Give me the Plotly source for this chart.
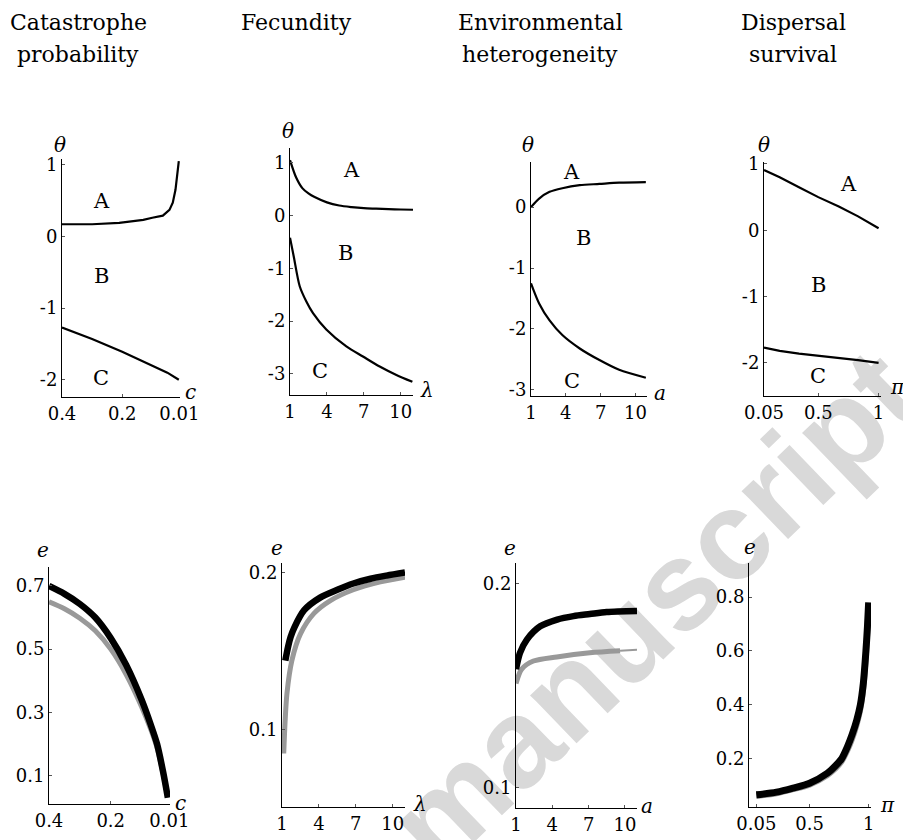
import plotly.graph_objects as go

W, H = 903, 840

# ---------------- data ----------------
# Top row: boundaries (theta) between regions A, B, C
cat_c_A = [0.4, 0.3, 0.21, 0.13, 0.1, 0.065, 0.043, 0.032, 0.023, 0.018, 0.012]
cat_theta_A = [0.17, 0.17, 0.19, 0.23, 0.26, 0.29, 0.37, 0.47, 0.65, 0.84, 1.05]
cat_c_C = [0.4, 0.3, 0.2, 0.1, 0.05, 0.012]
cat_theta_C = [-1.27, -1.43, -1.61, -1.80, -1.90, -2.0]

fec_lam_A = [1, 1.5, 2, 2.5, 3, 4, 5, 6, 7, 8, 9, 10, 11]
fec_theta_A = [1.05, 0.72, 0.52, 0.42, 0.35, 0.25, 0.19, 0.16, 0.14, 0.13, 0.12, 0.115, 0.11]
fec_lam_C = [1, 1.3, 1.79, 2.33, 2.87, 3.95, 5.58, 6.93, 8.29, 9.65, 10.95]
fec_theta_C = [-0.42, -0.77, -1.34, -1.63, -1.85, -2.16, -2.48, -2.67, -2.86, -3.02, -3.15]

env_a = [1, 1.7, 2.6, 3.7, 5.2, 6.9, 8.6, 10.9]
env_theta_A = [0.0, 0.14, 0.25, 0.31, 0.36, 0.38, 0.40, 0.41]
env_theta_C = [-1.25, -1.58, -1.86, -2.10, -2.32, -2.51, -2.67, -2.80]

dis_pi = [0.05, 0.18, 0.34, 0.5, 0.67, 0.83, 1.0]
dis_theta_A = [0.91, 0.80, 0.65, 0.50, 0.36, 0.21, 0.03]
dis_theta_C = [-1.77, -1.82, -1.86, -1.89, -1.92, -1.96, -2.0]

# Bottom row: e (black and gray curves)
cat_c = [0.4, 0.35, 0.3, 0.25, 0.2, 0.15, 0.1, 0.07, 0.05, 0.03, 0.015]
cat_e_black = [0.70, 0.675, 0.643, 0.60, 0.535, 0.45, 0.34, 0.26, 0.20, 0.11, 0.03]
cat_e_gray = [0.65, 0.628, 0.598, 0.558, 0.50, 0.42, 0.318, 0.245, 0.188, 0.104, 0.03]

fec_lam_black = [1.27, 1.5, 1.7, 2.0, 2.8, 4.1, 5.5, 6.8, 8.2, 9.5, 11]
fec_e_black = [0.144, 0.153, 0.159, 0.165, 0.176, 0.184, 0.189, 0.193, 0.196, 0.198, 0.2]
fec_lam_gray = [1.14, 1.25, 1.4, 1.8, 2.5, 3.6, 4.9, 6.8, 9.0, 11]
fec_e_gray = [0.085, 0.105, 0.123, 0.144, 0.161, 0.174, 0.182, 0.189, 0.194, 0.197]

env_a_black = [1, 1.33, 1.9, 3.0, 4.4, 5.75, 7.1, 8.5, 11]
env_e_black = [0.158, 0.166, 0.1725, 0.179, 0.1823, 0.184, 0.185, 0.186, 0.1865]
env_a_gray = [1, 1.47, 2.44, 4.37, 7.1, 9.6]
env_e_gray = [0.151, 0.158, 0.162, 0.164, 0.166, 0.167]
env_a_gray_thin = [9.6, 11]
env_e_gray_thin = [0.167, 0.1675]

dis_pi_b = [0.05, 0.22, 0.36, 0.5, 0.65, 0.72, 0.77, 0.82, 0.86, 0.9, 0.93, 0.955, 0.977, 0.99, 1.0]
dis_e_black = [0.067, 0.077, 0.092, 0.11, 0.147, 0.175, 0.2, 0.245, 0.29, 0.345, 0.4, 0.48, 0.6, 0.69, 0.78]
dis_e_gray = [0.063, 0.073, 0.088, 0.105, 0.14, 0.165, 0.19, 0.232, 0.275, 0.33, 0.385, 0.465, 0.585, 0.68, 0.77]

title_lines = [("Catastrophe", 78, 22), ("probability", 78, 55), ("Fecundity", 296, 22),
               ("Environmental", 540, 22), ("heterogeneity", 540, 55),
               ("Dispersal", 793, 22), ("survival", 793, 55)]

FONT = "DejaVu Serif"
BLACK = "#000000"
GRAY = "#999999"

fig = go.Figure()

def add(xs, ys, ax, color=BLACK, width=2.2, shape="linear"):
    fig.add_trace(go.Scatter(x=xs, y=ys, mode="lines", xaxis="x" + ax, yaxis="y" + ax,
                             line=dict(color=color, width=width, shape=shape, smoothing=0.8),
                             showlegend=False, hoverinfo="skip"))

# top row
add(cat_c_A, cat_theta_A, "1")
add(cat_c_C, cat_theta_C, "1")
add(fec_lam_A, fec_theta_A, "2", shape="spline")
add(fec_lam_C, fec_theta_C, "2", shape="spline")
add(env_a, env_theta_A, "3", shape="spline")
add(env_a, env_theta_C, "3", shape="spline")
add(dis_pi, dis_theta_A, "4")
add(dis_pi, dis_theta_C, "4")
# bottom row
add(cat_c, cat_e_gray, "5", GRAY, 5, "spline")
add(cat_c, cat_e_black, "5", BLACK, 6.5, "spline")
add(fec_lam_gray, fec_e_gray, "6", GRAY, 5, "spline")
add(fec_lam_black, fec_e_black, "6", BLACK, 6.5, "spline")
add(env_a_gray_thin, env_e_gray_thin, "7", GRAY, 2, "linear")
add(env_a_gray, env_e_gray, "7", GRAY, 5, "spline")
add(env_a_black, env_e_black, "7", BLACK, 6.5, "spline")
add(dis_pi_b, dis_e_gray, "8", GRAY, 6, "spline")
add(dis_pi_b, dis_e_black, "8", BLACK, 7, "spline")

# ---------------- layout ----------------
# pixel boxes of each panel: (x0, x1, ytop, ybottom)
boxes = {
    1: (62, 180, 159, 397), 2: (290, 413, 148, 395), 3: (531, 647, 162, 396), 4: (764, 881, 162, 396),
    5: (49, 170, 567, 804), 6: (282, 405, 563, 807), 7: (516, 637, 563, 808), 8: (749, 871, 563, 807),
}
xranges = {1: [0.4, 0.008], 2: [1, 11], 3: [1, 11], 4: [0.05, 1.02],
           5: [0.4, 0.008], 6: [1, 11], 7: [1, 11], 8: [-0.012, 1.02]}
yranges = {1: [-2.24, 1.08], 2: [-3.4, 1.28], 3: [-3.1, 0.74], 4: [-2.5, 1.03],
           5: [0.01, 0.76], 6: [0.051, 0.206], 7: [0.090, 0.210], 8: [0.022, 0.926]}
xt = {1: ([0.4, 0.2, 0.01], ["0.4", "0.2", "0.01"]),
      2: ([1, 4, 7, 10], ["1", "4", "7", "10"]),
      3: ([1, 4, 7, 10], ["1", "4", "7", "10"]),
      4: ([0.05, 0.5, 1], ["0.05", "0.5", "1"]),
      5: ([0.4, 0.2, 0.01], ["0.4", "0.2", "0.01"]),
      6: ([1, 4, 7, 10], ["1", "4", "7", "10"]),
      7: ([1, 4, 7, 10], ["1", "4", "7", "10"]),
      8: ([0.05, 0.5, 1], ["0.05", "0.5", "1"])}
yt = {1: ([1, 0, -1, -2], ["1", "0", "-1", "-2"]),
      2: ([1, 0, -1, -2, -3], ["1", "0", "-1", "-2", "-3"]),
      3: ([0, -1, -2, -3], ["0", "-1", "-2", "-3"]),
      4: ([1, 0, -1, -2], ["1", "0", "-1", "-2"]),
      5: ([0.1, 0.3, 0.5, 0.7], ["0.1", "0.3", "0.5", "0.7"]),
      6: ([0.1, 0.2], ["0.1", "0.2"]),
      7: ([0.1, 0.2], ["0.1", "0.2"]),
      8: ([0.2, 0.4, 0.6, 0.8], ["0.2", "0.4", "0.6", "0.8"])}

layout = dict(width=W, height=H, margin=dict(l=0, r=0, t=0, b=0, autoexpand=False),
              paper_bgcolor="white", plot_bgcolor="rgba(0,0,0,0)",
              font=dict(family=FONT, color="black", size=18), showlegend=False)

axis_common = dict(showgrid=False, zeroline=False, showline=True, linecolor="black", linewidth=1,
                   ticks="inside", ticklen=3, tickwidth=1, tickcolor="#555555", automargin=False,
                   tickfont=dict(family=FONT, size=18, color="black"), fixedrange=True)

for i, (x0, x1, yt0, yb0) in boxes.items():
    xk = "xaxis" if i == 1 else f"xaxis{i}"
    yk = "yaxis" if i == 1 else f"yaxis{i}"
    layout[xk] = dict(axis_common, domain=[x0 / W, x1 / W], range=xranges[i], autorange=False,
                      tickmode="array", tickvals=xt[i][0], ticktext=xt[i][1],
                      anchor=f"y{i}" if i > 1 else "y")
    layout[yk] = dict(axis_common, domain=[1 - yb0 / H, 1 - yt0 / H], range=yranges[i], autorange=False,
                      tickmode="array", tickvals=yt[i][0], ticktext=yt[i][1],
                      anchor=f"x{i}" if i > 1 else "x")

# watermark drawn as a label of an invisible shape placed below the data
wx, wy = 645 / W, 1 - 600 / H
layout["shapes"] = [dict(type="rect", xref="paper", yref="paper", layer="below",
                         x0=wx - 0.01, x1=wx + 0.01, y0=wy - 0.01, y1=wy + 0.01,
                         line=dict(width=0), fillcolor="rgba(0,0,0,0)",
                         label=dict(text="manuscript", textangle=-44, textposition="middle center",
                                    font=dict(family="Liberation Sans", size=126, color="#d9d9d9",
                                              weight="bold")))]

fig.update_layout(**layout)

ann = []

def pann(text, x, y, size=20, family=FONT, color="black", angle=0):
    ann.append(dict(text=text, x=x / W, y=1 - y / H, xref="paper", yref="paper",
                    xanchor="center", yanchor="middle", showarrow=False, textangle=angle,
                    font=dict(family=family, size=size, color=color)))

for t, x, y in title_lines:
    pann(t, x, y, size=22)

# axis labels
for (x, y) in [(60, 145), (288, 131), (528, 145), (764, 145)]:
    pann("<i>θ</i>", x, y)
for (txt, x, y) in [("c", 190, 392), ("λ", 427, 390), ("a", 660, 393), ("π", 897, 387),
                    ("c", 180, 803), ("λ", 420, 804), ("a", 647, 806), ("π", 887, 805)]:
    pann(f"<i>{txt}</i>", x, y)
for (x, y) in [(43, 550), (277, 548), (510, 548), (750, 547)]:
    pann("<i>e</i>", x, y)

# region letters (data coords)
letters = [
    ("1", [(0.27, 0.5, "A"), (0.27, -0.55, "B"), (0.27, -1.97, "C")]),
    ("2", [(6.0, 0.87, "A"), (5.5, -0.7, "B"), (3.4, -2.94, "C")]),
    ("3", [(4.5, 0.57, "A"), (5.5, -0.5, "B"), (4.5, -2.85, "C")]),
    ("4", [(0.75, 0.7, "A"), (0.5, -0.82, "B"), (0.5, -2.2, "C")]),
]
for ax, items in letters:
    for (x, y, t) in items:
        ann.append(dict(text=t, x=x, y=y, xref="x" if ax == "1" else "x" + ax,
                        yref="y" if ax == "1" else "y" + ax, showarrow=False,
                        xanchor="center", yanchor="middle",
                        font=dict(family=FONT, size=21, color="black")))

fig.update_layout(annotations=ann)
fig.write_html("out.html", config={"displayModeBar": False},
               post_script="document.body.style.margin='0px';")
